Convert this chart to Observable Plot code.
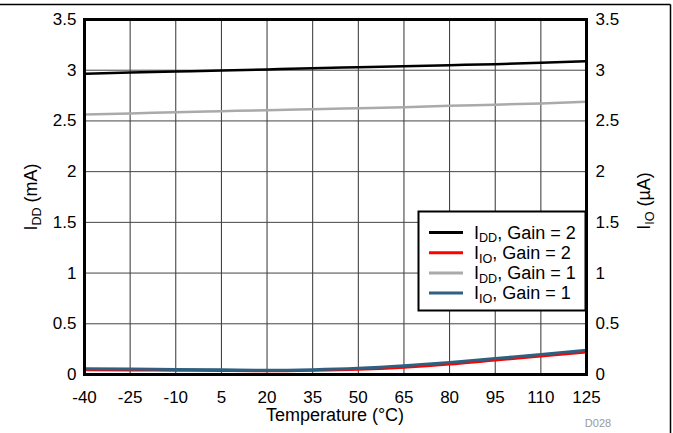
<!DOCTYPE html>
<html>
<head>
<meta charset="utf-8">
<script src="https://cdn.jsdelivr.net/npm/d3@7"></script>
<script src="https://cdn.jsdelivr.net/npm/@observablehq/plot@0.6"></script>
<style>
  html, body { margin: 0; padding: 0; background: #fff; }
  #chart { position: relative; width: 673px; height: 433px; }
</style>
</head>
<body>
<div id="chart"></div>
<script>
// ---- data ----
const temps = [-40, -25, -10, 5, 20, 35, 50, 65, 80, 95, 110, 125];
const iddGain2 = [2.965, 2.977, 2.987, 2.997, 3.008, 3.02, 3.03, 3.04, 3.05, 3.06, 3.073, 3.09];
const iioGain2 = [0.045, 0.043, 0.04, 0.037, 0.035, 0.04, 0.05, 0.07, 0.1, 0.14, 0.18, 0.22];
const iddGain1 = [2.563, 2.573, 2.586, 2.596, 2.606, 2.615, 2.625, 2.635, 2.65, 2.66, 2.673, 2.69];
const iioGain1 = [0.056, 0.054, 0.05, 0.046, 0.042, 0.048, 0.062, 0.086, 0.118, 0.158, 0.197, 0.24];
const xTicks = [-40, -25, -10, 5, 20, 35, 50, 65, 80, 95, 110, 125];
const yTicks = [0, 0.5, 1, 1.5, 2, 2.5, 3, 3.5];
const seriesMain = ["I", "I", "I", "I"];
const seriesSub = ["DD", "IO", "DD", "IO"];
const seriesRest = [", Gain = 2", ", Gain = 2", ", Gain = 1", ", Gain = 1"];
const seriesValues = [iddGain2, iioGain2, iddGain1, iioGain1];
const seriesColors = ["#000000", "#ff0000", "#aaaaaa", "#2e6080"];
const seriesWidths = [2.5, 2.5, 2.5, 3];

const rows = [];
seriesValues.forEach((vals, s) => vals.forEach((v, i) => rows.push({s, t: temps[i], v})));

const font = "'Liberation Sans', Arial, sans-serif";

const plot = Plot.plot({
  width: 673,
  height: 433,
  marginLeft: 84,
  marginRight: 87,
  marginTop: 19,
  marginBottom: 59,
  style: {fontFamily: font, fontSize: "17px", color: "#000", background: "#fff", overflow: "visible"},
  x: {domain: [-40, 125]},
  y: {domain: [0, 3.5]},
  marks: [
    Plot.gridX(xTicks, {stroke: "#333", strokeOpacity: 1, strokeWidth: 1}),
    Plot.gridY(yTicks, {stroke: "#444", strokeOpacity: 1, strokeWidth: 1}),
    ...[0, 2, 1, 3].map(s => Plot.line(rows.filter(d => d.s === s), {
      x: "t", y: "v", stroke: seriesColors[s], strokeWidth: seriesWidths[s], curve: "monotone-x"
    })),
    Plot.axisX(xTicks, {tickSize: 0, tickPadding: 16, label: null, tickFormat: d => String(d), fontSize: 17}),
    Plot.axisY(yTicks, {anchor: "left", tickSize: 0, tickPadding: 8, label: null, tickFormat: d => String(d), fontSize: 17}),
    Plot.axisY(yTicks, {anchor: "right", tickSize: 0, tickPadding: 9, label: null, tickFormat: d => String(d), fontSize: 17}),
    Plot.frame({stroke: "#000", strokeWidth: 3})
  ]
});

document.getElementById("chart").appendChild(plot);

const svg = d3.select(plot);

// outer figure frame (top and right edges)
svg.append("line").attr("x1", 0).attr("x2", 670.5).attr("y1", 4.5).attr("y2", 4.5)
  .attr("stroke", "#000").attr("stroke-width", 1.5);
svg.append("line").attr("x1", 670.5).attr("x2", 670.5).attr("y1", 4.5).attr("y2", 433)
  .attr("stroke", "#000").attr("stroke-width", 1.5);

function subText(g, main, sub, rest, size, anchor) {
  const t = g.append("text").attr("font-family", font).attr("font-size", size)
    .attr("fill", "#000").attr("text-anchor", anchor);
  t.append("tspan").text(main);
  t.append("tspan").attr("font-size", size * 0.7).attr("dy", size * 0.22).text(sub);
  t.append("tspan").attr("dy", -size * 0.22).text(rest);
  return t;
}

// axis titles
subText(svg.append("g").attr("transform", "translate(37,197) rotate(-90)"), "I", "DD", " (mA)", 18, "middle");
subText(svg.append("g").attr("transform", "translate(650,201) rotate(-90)"), "I", "IO", " (\u00b5A)", 18, "middle");
svg.append("text").attr("x", 335).attr("y", 421).attr("text-anchor", "middle")
  .attr("font-family", font).attr("font-size", 18).attr("fill", "#000").text("Temperature (\u00b0C)");
svg.append("text").attr("x", 598).attr("y", 427).attr("text-anchor", "middle")
  .attr("font-family", font).attr("font-size", 11).attr("fill", "#999").text("D028");

// legend
const lg = svg.append("g");
lg.append("rect").attr("x", 418.5).attr("y", 211.5).attr("width", 167).attr("height", 99)
  .attr("fill", "#fff").attr("stroke", "#000").attr("stroke-width", 2);
seriesColors.forEach((c, i) => {
  const y = 232.5 + i * 20.2;
  lg.append("line").attr("x1", 429).attr("x2", 463).attr("y1", y).attr("y2", y)
    .attr("stroke", c).attr("stroke-width", 3);
  subText(lg, seriesMain[i], seriesSub[i], seriesRest[i], 18, "start").attr("x", 474).attr("y", y + 6);
});
</script>
</body>
</html>
